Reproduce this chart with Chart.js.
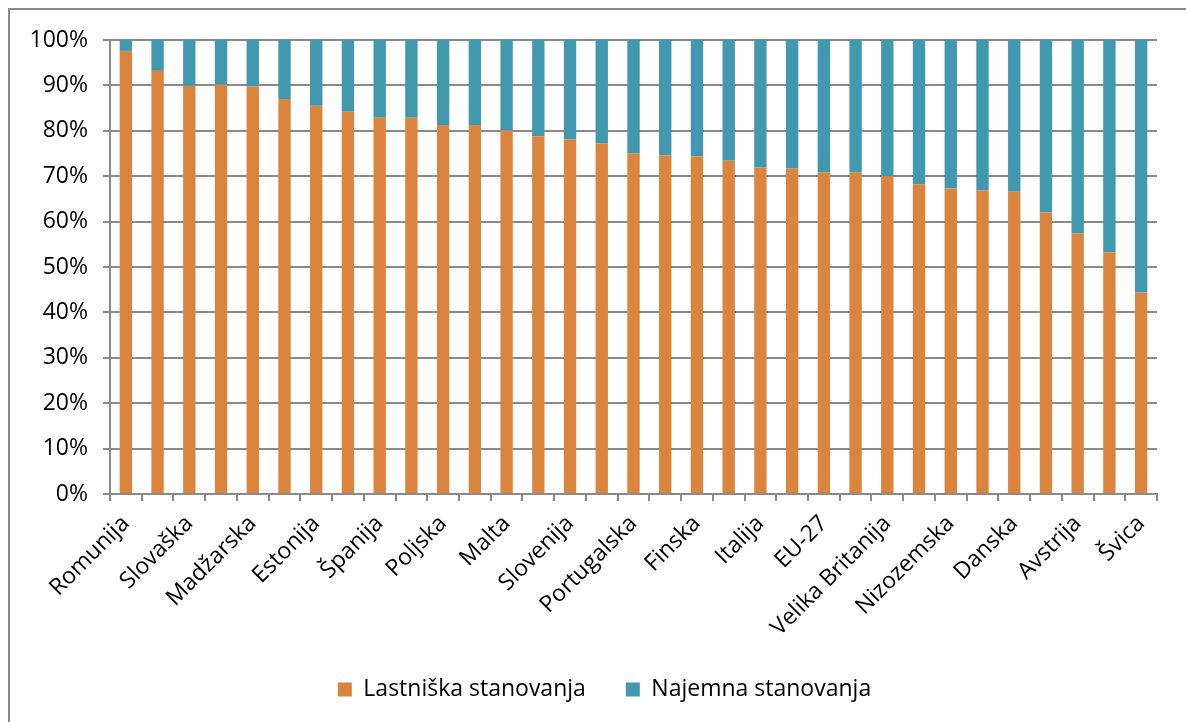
<!DOCTYPE html>
<html>
<head>
<meta charset="utf-8">
<script src="https://cdn.jsdelivr.net/npm/chart.js@4/dist/chart.umd.min.js"></script>
<style>
  html, body { margin: 0; padding: 0; background: #fff; overflow: hidden; }
  #wrap { position: relative; width: 1186px; height: 722px; }
  #frame { position: absolute; left: 8px; top: 8px; width: 1300px; height: 800px;
           border: 2px solid #8a8a8a; box-sizing: border-box; pointer-events: none; }
  canvas { position: absolute; left: 0; top: 0; }
</style>
</head>
<body>
<div id="wrap">
  <canvas id="c" width="1186" height="722"></canvas>
  <div id="frame"></div>
</div>
<script>
const categories = [
  'Romunija', 'Litva', 'Slovaška', 'Hrvaška', 'Madžarska', 'Bolgarija', 'Estonija', 'Norveška',
  'Španija', 'Islandija', 'Poljska', 'Grčija', 'Malta', 'Češka', 'Slovenija', 'Latvija',
  'Portugalska', 'Ciper', 'Finska', 'Irska', 'Italija', 'Luksemburg', 'EU-27', 'Belgija',
  'Velika Britanija', 'Švedska', 'Nizozemska', 'Turčija', 'Danska', 'Francija', 'Avstrija',
  'Nemčija', 'Švica'
];
const ownerShare = [
  97.6, 93.2, 89.9, 90.2, 89.8, 87.0, 85.5, 84.2, 82.9, 82.9, 81.3, 81.3, 80.1, 78.8, 78.1, 77.2,
  75.0, 74.6, 74.4, 73.4, 71.9, 71.7, 70.8, 70.8, 70.0, 68.2, 67.3, 66.9, 66.6, 62.0, 57.4, 53.2, 44.4
];
const rentShare = [
  2.4, 6.8, 10.1, 9.8, 10.2, 13.0, 14.5, 15.8, 17.1, 17.1, 18.7, 18.7, 19.9, 21.2, 21.9, 22.8,
  25.0, 25.4, 25.6, 26.6, 28.1, 28.3, 29.2, 29.2, 30.0, 31.8, 32.7, 33.1, 33.4, 38.0, 42.6, 46.8, 55.6
];
const seriesNames = ['Lastniška stanovanja', 'Najemna stanovanja'];
const yTicks = [0, 10, 20, 30, 40, 50, 60, 70, 80, 90, 100];

const FONT = "'Open Sans', 'DejaVu Sans', sans-serif";
const AXIS = '#8a8a8a';

const legendShift = {
  id: 'legendShift',
  afterLayout(chart) {
    if (chart.legend) { chart.legend.left += 26; chart.legend.right += 26; }
  }
};

new Chart(document.getElementById('c'), {
  type: 'bar',
  data: {
    labels: categories,
    datasets: [
      { label: seriesNames[0], data: ownerShare, backgroundColor: '#DB843D', barPercentage: 0.39, categoryPercentage: 1 },
      { label: seriesNames[1], data: rentShare, backgroundColor: '#4198AF', barPercentage: 0.39, categoryPercentage: 1 }
    ]
  },
  plugins: [legendShift],
  options: {
    responsive: false,
    animation: false,
    devicePixelRatio: 1,
    layout: { padding: { left: 0, right: 29, top: 40, bottom: 11 } },
    plugins: {
      tooltip: { enabled: false },
      legend: {
        position: 'bottom',
        labels: {
          boxWidth: 14, boxHeight: 14, padding: 40,
          color: '#000', font: { family: FONT, size: 23 }
        }
      }
    },
    scales: {
      x: {
        stacked: true,
        grid: { drawOnChartArea: false, drawTicks: true, tickLength: 7, color: AXIS, lineWidth: 2 },
        border: { display: true, color: AXIS, width: 2 },
        ticks: {
          autoSkip: false, minRotation: 45, maxRotation: 45, padding: 9,
          color: '#000', font: { family: FONT, size: 23 },
          callback: function (v, i) { return i % 2 === 0 ? this.getLabelForValue(v) : ''; }
        },
        afterFit: function (s) { s.height = 144; }
      },
      y: {
        stacked: true,
        min: yTicks[0], max: yTicks[yTicks.length - 1],
        grid: { color: AXIS, lineWidth: 2, drawTicks: true, tickLength: 7 },
        border: { display: true, color: AXIS, width: 2 },
        ticks: {
          stepSize: 10, padding: 15, color: '#000', font: { family: FONT, size: 23 },
          callback: v => v + '%'
        },
        afterBuildTicks: s => { s.ticks = yTicks.map(v => ({ value: v })); },
        afterFit: function (s) { s.width = 110; }
      }
    }
  }
});
</script>
</body>
</html>
